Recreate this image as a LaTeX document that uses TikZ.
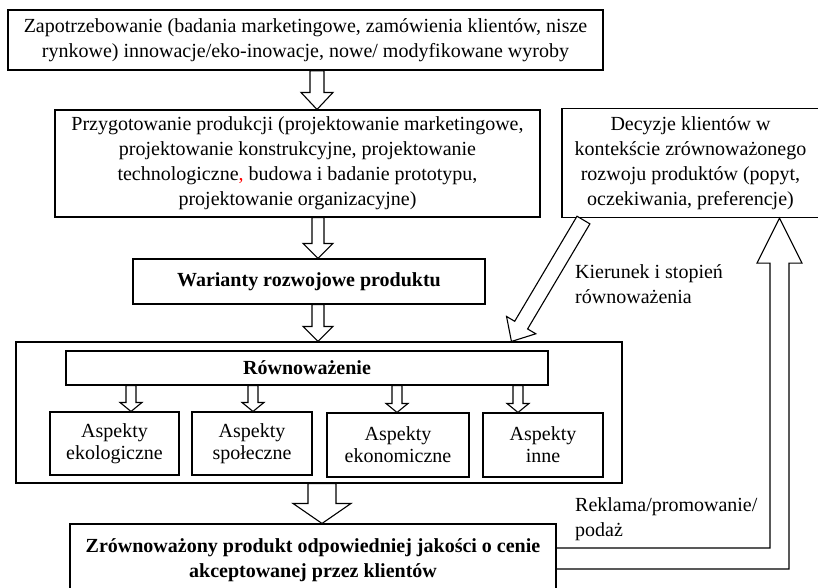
\documentclass[tikz,border=0pt]{standalone}
\usepackage{fontspec}
\setmainfont{Liberation Serif}
\usetikzlibrary{calc}

\newcommand\txt{\fontsize{20}{25}\selectfont}
\newcommand\smalltxt{\fontsize{20}{22}\selectfont}

% hollow block arrow from #1 to #2: shaft half-width #3, head half-width #4, head length #5
\newcommand\hollowarrow[5]{%
  \coordinate (ha-A) at #1;
  \coordinate (ha-B) at #2;
  \coordinate (ha-P) at ($(ha-B)!#5pt!(ha-A)$);
  \draw[harrow] ($(ha-A)!#3pt!90:(ha-B)$) -- ($(ha-P)!#3pt!90:(ha-B)$)
    -- ($(ha-P)!#4pt!90:(ha-B)$) -- (ha-B) -- ($(ha-P)!#4pt!-90:(ha-B)$)
    -- ($(ha-P)!#3pt!-90:(ha-B)$) -- ($(ha-A)!#3pt!-90:(ha-B)$) -- cycle;}

\tikzset{
  box/.style={draw, line width=1.1pt, inner sep=0pt, align=center, font=\txt, fill=white},
  aspect/.style={box, font=\smalltxt},
  harrow/.style={draw, line width=1.1pt, fill=white, line join=miter},
  note/.style={inner sep=0pt, align=left, font=\txt, anchor=west},
}

\begin{document}
\begin{tikzpicture}[x=1pt, y=-1pt]
\useasboundingbox (0,0) rectangle (818,587);

% main chain of boxes
\node[box, line width=1.5pt, minimum width=595, minimum height=60] (top) at (305.5,40)
  {Zapotrzebowanie (badania marketingowe, zamówienia klientów, nisze\\
   rynkowe) innowacje/eko-inowacje, nowe/ modyfikowane wyroby};
\node[box, minimum width=485, minimum height=107] (prep) at (297.5,163.5)
  {Przygotowanie produkcji (projektowanie marketingowe,\\
   projektowanie konstrukcyjne, projektowanie\\
   technologiczne{\color{red},} budowa i badanie prototypu,\\
   projektowanie organizacyjne)};
\node[box, minimum width=257, minimum height=109] (dec) at (690.5,163)
  {Decyzje klientów w\\ kontekście zrównoważonego\\
   rozwoju produktów (popyt,\\ oczekiwania, preferencje)};
\node[box, minimum width=352, minimum height=45] (war) at (309,281.5)
  {\bfseries Warianty rozwojowe produktu};

% balancing block
\node[box, minimum width=606, minimum height=141] (big) at (319,412.5) {};
\node[box, minimum width=482, minimum height=34] (row) at (307,368)
  {\bfseries Równoważenie};
\node[aspect, minimum width=129, minimum height=63] (ekol) at (114.5,443.5)
  {Aspekty\\ ekologiczne};
\node[aspect, minimum width=120, minimum height=63] (spol) at (252,443.5)
  {Aspekty\\ społeczne};
\node[aspect, minimum width=142, minimum height=64] (ekon) at (398,445)
  {Aspekty\\ ekonomiczne};
\node[aspect, minimum width=120, minimum height=64] (inne) at (543,445)
  {Aspekty\\ inne};

\node[box, minimum width=486, minimum height=72] (bot) at (313,560)
  {\bfseries Zrównoważony produkt odpowiedniej jakości o cenie\\
   \bfseries akceptowanej przez klientów};

% side labels
\node[note] (kier) at (575,284) {Kierunek i stopień\\ równoważenia};
\node[note] (rek) at (575,519) {Reklama/promowanie/\\ podaż};

% vertical axes of the block arrows
\coordinate (c1) at (317,0);
\coordinate (c2) at (318,0);
\coordinate (c3) at (322,0);
\coordinate (e1) at (131,0);
\coordinate (e2) at (253,0);
\coordinate (e3) at (397,0);
\coordinate (e4) at (518,0);
\coordinate (fbx) at (779.5,0);

\hollowarrow{(top.south -| c1)}{(prep.north -| c1)}{7}{16}{17}
\hollowarrow{(prep.south -| c2)}{(war.north -| c2)}{6}{15}{15}
\hollowarrow{(war.south -| c2)}{(big.north -| c2)}{6}{15}{15}
\hollowarrow{(row.south -| e1)}{(ekol.north -| e1)}{5}{11}{9}
\hollowarrow{(row.south -| e2)}{(spol.north -| e2)}{5}{11}{9}
\hollowarrow{(row.south -| e3)}{(ekon.north -| e3)}{5}{11}{9}
\hollowarrow{(row.south -| e4)}{(inne.north -| e4)}{5}{11}{9}
\hollowarrow{(big.south -| c3)}{(bot.north -| c3)}{14}{29}{20}

% customer decisions feed the balancing block
\hollowarrow{($(dec.south west)+(22,2)$)}{($(big.north west)+(496,0)$)}{7.5}{17}{19}

% feedback from the product to customer decisions
\draw[harrow, fill=none] let \p1=(bot.east), \p2=(dec.south -| fbx) in
  (\x1,\y1+12pt) -- (\x2-9.5pt,\y1+12pt) -- (\x2-9.5pt,\y2-45pt)
  -- (\x2-22.5pt,\y2-45pt) -- (\p2) -- (\x2+22.5pt,\y2-45pt)
  -- (\x2+9.5pt,\y2-45pt) -- (\x2+9.5pt,\y1-9pt) -- (\x1,\y1-9pt);
\end{tikzpicture}
\end{document}
